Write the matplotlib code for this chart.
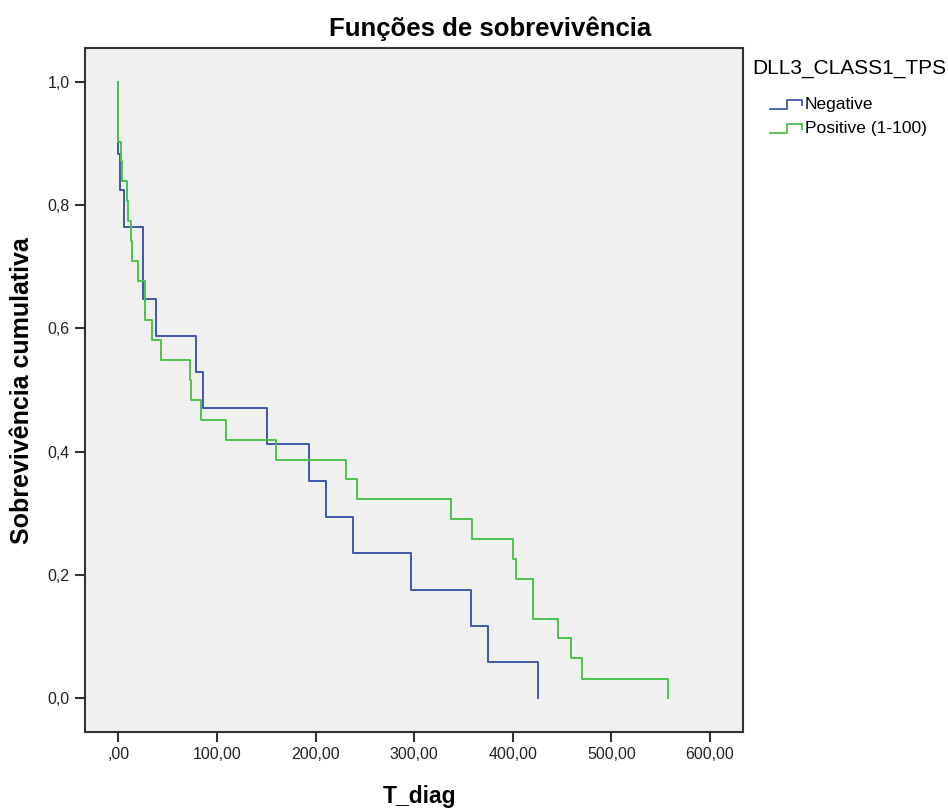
import matplotlib
matplotlib.use("Agg")
import matplotlib.pyplot as plt
from matplotlib.lines import Line2D

plt.rcParams["font.family"] = ["Liberation Sans", "DejaVu Sans"]

# Kaplan-Meier steps (time, cumulative survival after the step)
neg_time = [0, 0, 1.3, 5.4, 25, 37.8, 79, 85.8, 151, 193.4, 211, 238, 297, 357.4, 374.4, 425.7]
neg_surv = [1.0, 0.882, 0.824, 0.765, 0.647, 0.588, 0.529, 0.471, 0.412, 0.353, 0.294,
            0.235, 0.176, 0.118, 0.059, 0.0]

pos_time = [0, 0, 3.0, 3.7, 8.7, 10, 13.2, 13.8, 20, 27, 34.5, 43, 72.3, 73.3, 83.5, 109.6,
            159.6, 231.3, 241.5, 337.8, 358.4, 400.3, 402.8, 420.6, 445.4, 458.9, 469.8, 557]
pos_surv = [1.0, 0.903, 0.871, 0.839, 0.806, 0.774, 0.742, 0.710, 0.677, 0.613, 0.581, 0.548,
            0.516, 0.484, 0.452, 0.419, 0.387, 0.355, 0.323, 0.290, 0.258, 0.226, 0.194, 0.129,
            0.097, 0.065, 0.032, 0.0]

groups = ["Negative", "Positive (1-100)"]
x_ticks = [0, 100, 200, 300, 400, 500, 600]
x_labels = [",00", "100,00", "200,00", "300,00", "400,00", "500,00", "600,00"]
y_ticks = [0.0, 0.2, 0.4, 0.6, 0.8, 1.0]
y_labels = ["0,0", "0,2", "0,4", "0,6", "0,8", "1,0"]

blue = "#3f58ac"
green = "#4cc24d"
frame = "#333333"

fig = plt.figure(figsize=(9.48, 8.09), dpi=100)
ax = fig.add_axes([0.0897, 0.0952, 0.6937, 0.8451])
ax.set_facecolor("#f0f0f0")

ax.step(neg_time, neg_surv, where="post", color=blue, linewidth=1.4)
ax.step(pos_time, pos_surv, where="post", color=green, linewidth=1.4)

ax.set_xlim(-33.8, 633.1)
ax.set_ylim(-0.0547, 1.0542)
ax.set_xticks(x_ticks)
ax.set_xticklabels(x_labels)
ax.set_yticks(y_ticks)
ax.set_yticklabels(y_labels)
ax.tick_params(direction="out", length=7, width=1.5, color=frame, labelsize=11.5,
               labelcolor="#222222", pad=4)
for s in ax.spines.values():
    s.set_color(frame)
    s.set_linewidth(1.5)

ax.set_xlabel("T_diag", fontsize=16.5, fontweight="bold", va="center")
ax.xaxis.set_label_coords(0.509, -0.094)
ax.set_ylabel("Sobrevivência cumulativa", fontsize=18, fontweight="bold", va="center")
ax.yaxis.set_label_coords(-0.0955, 0.5)
fig.text(0.517, 0.965, "Funções de sobrevivência", ha="center", va="center",
         fontsize=18.5, fontweight="bold")

# legend drawn by hand with the step-shaped keys
fig.text(752 / 948, 1 - 68 / 809, "DLL3_CLASS1_TPS", ha="left", va="center", fontsize=15)
W, H = 948.0, 809.0
for i, (name, col) in enumerate(zip(groups, [blue, green])):
    y0 = 109 + i * 24
    xs = [770, 787, 787, 802, 802]
    ys = [y0, y0, y0 - 9, y0 - 9, y0 - 4]
    fig.add_artist(Line2D([x / W for x in xs], [1 - y / H for y in ys],
                          color=col, linewidth=1.3, transform=fig.transFigure))
    fig.text(805 / W, 1 - (y0 - 5) / H, name, ha="left", va="center", fontsize=12.5)

fig.savefig("out.png", dpi=100)
